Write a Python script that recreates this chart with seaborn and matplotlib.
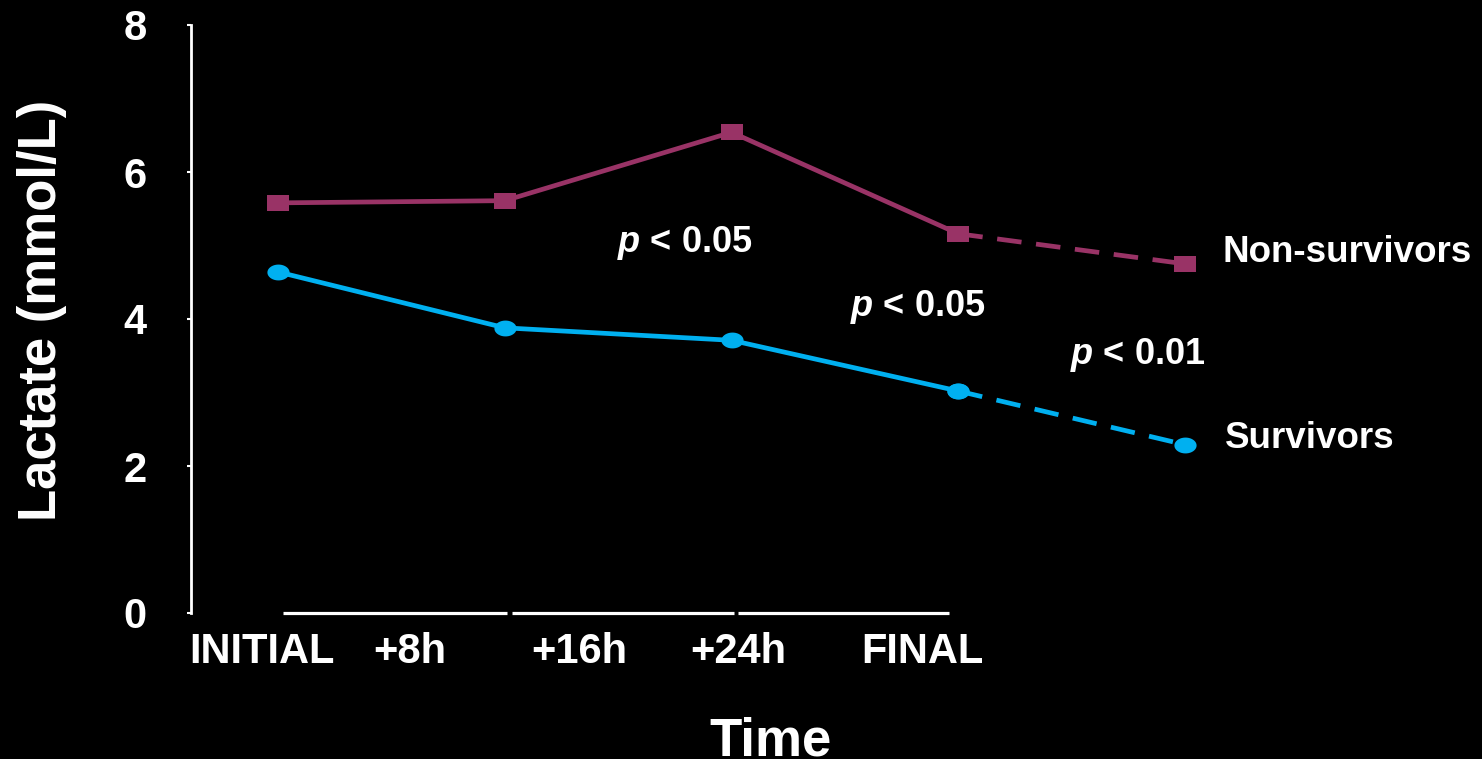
import matplotlib
matplotlib.use("Agg")
import matplotlib.pyplot as plt
import seaborn as sns
import pandas as pd
import numpy as np

# ---- data ----
time_index = [0, 1, 2, 3, 4]
tick_labels = ["INITIAL", "+8h", "+16h", "+24h", "FINAL"]
tick_positions = [-0.07, 0.58, 1.33, 2.03, 2.84]
non_survivors = [5.58, 5.61, 6.54, 5.16, 4.75]
survivors = [4.64, 3.88, 3.71, 3.02, 2.29]
p_texts = ["< 0.05", "< 0.05", "< 0.01"]
p_x = [1.795, 2.82, 3.79]
p_y = [5.03, 4.16, 3.51]
y_ticks = [0, 2, 4, 6, 8]

# decorative x-axis segments (axis line with small gaps)
xaxis_seg_start = [0.02, 1.03, 2.03]
xaxis_seg_end = [1.01, 2.01, 2.96]

sns.set_theme(style="white")
plt.rcParams['font.family'] = ['Liberation Sans', 'DejaVu Sans']
plt.rcParams['mathtext.fontset'] = 'custom'
plt.rcParams['mathtext.it'] = 'Liberation Sans:italic:bold'
plt.rcParams['mathtext.rm'] = 'Liberation Sans:bold'

df = pd.DataFrame({
    "t": time_index * 2,
    "lactate": non_survivors + survivors,
    "group": ["Non-survivors"] * 5 + ["Survivors"] * 5,
})

fig = plt.figure(figsize=(14.82, 7.59), dpi=100, facecolor="black")
W, H = 1482, 759
ax = fig.add_axes([191 / W, (H - 613) / H, (1300 - 191) / W, 588 / H])
ax.set_facecolor("black")

c_non = "#993366"
c_surv = "#00B0F0"
sq_marker = [(-1.375, -1), (1.375, -1), (1.375, 1), (-1.375, 1), (-1.375, -1)]
theta = np.linspace(0, 2 * np.pi, 40)
el_marker = list(zip(1.4 * np.cos(theta), 1.0 * np.sin(theta)))

styles = {"Non-survivors": (c_non, sq_marker), "Survivors": (c_surv, el_marker)}
for grp, (col, mk) in styles.items():
    sub = df[df["group"] == grp]
    solid = sub[sub["t"] <= 3]
    dashed = sub[sub["t"] >= 3]
    sns.lineplot(data=dashed, x="t", y="lactate", ax=ax, color=col, lw=3.4,
                 linestyle=(0, (5.2, 3.1)), marker=mk, markersize=16,
                 markeredgewidth=0, legend=False)
    sns.lineplot(data=solid, x="t", y="lactate", ax=ax, color=col, lw=3.4,
                 marker=mk, markersize=16, markeredgewidth=0, legend=False)

ax.set_xlim(-0.384, 4.507)
ax.set_ylim(0, 8)

for s in ["top", "right", "bottom"]:
    ax.spines[s].set_visible(False)
ax.spines["left"].set_color("white")
ax.spines["left"].set_linewidth(2)
ax.spines["left"].set_bounds(0, 8)

ax.hlines([0] * len(xaxis_seg_start), xaxis_seg_start, xaxis_seg_end,
          colors="white", lw=2.3, clip_on=False)

ax.set_yticks(y_ticks)
ax.set_yticklabels([str(v) for v in y_ticks])
ax.tick_params(axis="y", colors="white", length=3, width=1.5, direction="out",
               pad=29, labelsize=30, left=True)
for lab in ax.get_yticklabels():
    lab.set_fontweight("bold")

ax.set_xticks(tick_positions)
ax.set_xticklabels(tick_labels)
ax.tick_params(axis="x", colors="white", length=0, pad=14, labelsize=30)
for lab in ax.get_xticklabels():
    lab.set_fontweight("bold")

ax.set_xlabel("")
ax.set_ylabel("")

for tx, px, py in zip(p_texts, p_x, p_y):
    ax.text(px, py, r"$p$ " + tx, color="white", fontsize=26, fontweight="bold",
            ha="center", va="center")

ax.text(4.163, 4.91, "Non-survivors", color="white", fontsize=26.5,
        fontweight="bold", ha="left", va="center", clip_on=False)
ax.text(4.176, 2.37, "Survivors", color="white", fontsize=26.5,
        fontweight="bold", ha="left", va="center", clip_on=False)

fig.text(42 / W, 1 - 310 / H, "Lactate (mmol/L)", color="white", fontsize=38,
         fontweight="bold", rotation=90, ha="center", va="center")
fig.text(770 / W, 1 - 755 / H, "Time", color="white", fontsize=38,
         fontweight="bold", ha="center", va="baseline")

fig.savefig("out.png", dpi=100, facecolor="black")
